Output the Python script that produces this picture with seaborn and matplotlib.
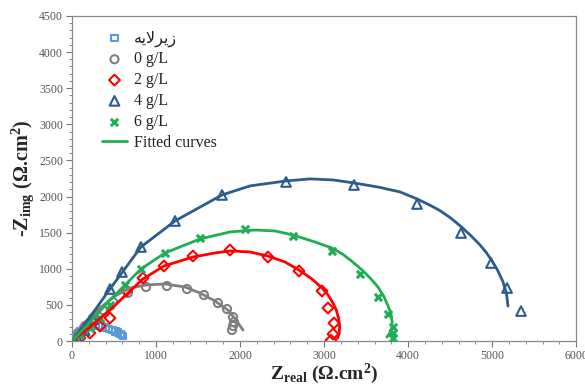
import numpy as np
import pandas as pd
import matplotlib
matplotlib.use("Agg")
import matplotlib.pyplot as plt
from matplotlib.ticker import MultipleLocator
import seaborn as sns

# ---- measured points (Zreal, -Zimg) ----
sub_x = [10, 25, 45, 70, 100, 130, 165, 200, 240, 280, 320, 360, 400, 440, 480, 520, 550, 575, 595, 610]
sub_y = [10, 30, 60, 95, 130, 160, 185, 205, 215, 220, 215, 205, 190, 170, 150, 130, 115, 100, 85, 70]

g0_x = [71, 155, 250, 369, 488, 666, 881, 1130, 1369, 1571, 1737, 1845, 1916, 1928, 1916, 1904]
g0_y = [111, 208, 319, 429, 540, 665, 748, 762, 720, 637, 526, 443, 332, 263, 208, 152]

g2_x = [95, 214, 333, 452, 650, 845, 1095, 1440, 1880, 2332, 2701, 2975, 3046, 3118, 3106, 3082]
g2_y = [42, 111, 208, 319, 698, 872, 1039, 1177, 1260, 1163, 970, 693, 457, 249, 97, 10]

g4_x = [60, 150, 250, 452, 595, 821, 1226, 1785, 2547, 3356, 4106, 4629, 4986, 5177, 5343]
g4_y = [50, 150, 300, 720, 956, 1302, 1662, 2022, 2202, 2160, 1897, 1496, 1080, 734, 415]

g6_x = [95, 214, 333, 452, 631, 821, 1107, 1523, 2059, 2630, 3094, 3427, 3641, 3760, 3820, 3820, 3820]
g6_y = [83, 180, 319, 499, 776, 997, 1219, 1427, 1551, 1454, 1247, 928, 609, 374, 194, 111, 42]

# ---- fitted curves ----
f0_x = [0, 155, 333, 512, 690, 881, 1107, 1345, 1523, 1702, 1856, 1952, 2035]
f0_y = [0, 263, 457, 623, 734, 776, 790, 748, 665, 554, 429, 291, 152]

f2_x = [0, 214, 452, 666, 845, 1095, 1440, 1702, 1880, 2118, 2332, 2535, 2701, 2856, 2975,
        3050, 3106, 3145, 3172, 3185, 3180, 3160]
f2_y = [0, 194, 429, 665, 859, 1039, 1163, 1219, 1247, 1233, 1177, 1094, 983, 859, 734,
        635, 526, 430, 320, 200, 110, 40]

f4_x = [0, 214, 452, 821, 1226, 1785, 2118, 2547, 2832, 3106, 3356, 3650, 3903, 4106, 4260,
        4379, 4510, 4629, 4750, 4855, 4930, 4986, 5060, 5129, 5170, 5188]
f4_y = [0, 332, 720, 1302, 1662, 2022, 2147, 2216, 2244, 2230, 2188, 2130, 2064, 1967, 1880,
        1805, 1700, 1585, 1455, 1330, 1225, 1130, 990, 820, 660, 485]

f6_x = [0, 214, 452, 631, 821, 1107, 1523, 1880, 2178, 2416, 2630, 2892, 3094, 3230, 3340,
        3450, 3550, 3641, 3710, 3760, 3795, 3810, 3805, 3780, 3748]
f6_y = [0, 263, 568, 776, 997, 1219, 1413, 1510, 1537, 1524, 1468, 1371, 1288, 1195, 1095,
        985, 870, 748, 620, 490, 380, 270, 180, 110, 55]

sub_label = "\ufeea\ufbfe\ufefb\ufeae\ufbfe\ufeaf"  # زیرلایه, pre-shaped for LTR drawing

sns.set_style("white")
plt.rcParams["font.family"] = ["Liberation Serif", "DejaVu Sans"]
plt.rcParams["mathtext.fontset"] = "custom"
plt.rcParams["mathtext.rm"] = "Liberation Serif:bold"
plt.rcParams["mathtext.bf"] = "Liberation Serif:bold"
plt.rcParams["mathtext.it"] = "Liberation Serif:bold"

fig, ax = plt.subplots(figsize=(5.85, 3.88), dpi=100)
fig.subplots_adjust(left=0.123, right=0.985, bottom=0.121, top=0.959)

c_sub, c0, c2, c4, c6 = "#5b9bd5", "#7f7f7f", "#ff0000", "#2b5d8c", "#1fae55"

series = [
    (sub_x, sub_y, "s", c_sub, 22, sub_label),
    (g0_x, g0_y, "o", c0, 34, "0 g/L"),
    (g2_x, g2_y, "D", c2, 30, "2 g/L"),
    (g4_x, g4_y, "^", c4, 48, "4 g/L"),
]
for xs, ys, mk, col, size, lab in series:
    d = pd.DataFrame({"x": xs, "y": ys})
    sns.scatterplot(data=d, x="x", y="y", marker=mk, s=size, fc="none", ec=col,
                    linewidth=1.5, label=lab, ax=ax, zorder=3)
d6 = pd.DataFrame({"x": g6_x, "y": g6_y})
sns.scatterplot(data=d6, x="x", y="y", marker="x", s=28, color=c6,
                linewidth=2.2, label="6 g/L", ax=ax, zorder=3)

curves = [(f0_x, f0_y, c0), (f2_x, f2_y, c2), (f4_x, f4_y, c4), (f6_x, f6_y, c6)]
for i, (xs, ys, col) in enumerate(curves):
    d = pd.DataFrame({"x": xs, "y": ys})
    lab = "Fitted curves" if i == 3 else None
    sns.lineplot(data=d, x="x", y="y", sort=False, color=col, lw=2,
                 label=lab, ax=ax, zorder=4)

ax.set_xlim(0, 6000)
ax.set_ylim(0, 4500)
ax.xaxis.set_major_locator(MultipleLocator(1000))
ax.xaxis.set_minor_locator(MultipleLocator(200))
ax.yaxis.set_major_locator(MultipleLocator(500))
ax.yaxis.set_minor_locator(MultipleLocator(100))
ax.tick_params(which="major", direction="out", length=4, width=0.8, color="#777777",
               labelsize=8.5, labelcolor="#555555", bottom=True, left=True, pad=2.5)
ax.tick_params(which="minor", direction="out", length=2.5, width=0.6, color="#777777",
               bottom=True, left=True)
for sp in ax.spines.values():
    sp.set_color("#888888")
    sp.set_linewidth(0.9)

ax.set_xlabel(r"Z$_{\mathregular{real}}$ ($\Omega$.cm$^{\mathregular{2}}$)", fontsize=14,
              fontweight="bold", labelpad=0)
ax.set_ylabel(r"-Z$_{\mathregular{img}}$ ($\Omega$.cm$^{\mathregular{2}}$)", fontsize=14.5,
              fontweight="bold", labelpad=2)

handles, labels = ax.get_legend_handles_labels()
leg = ax.legend(handles, labels, loc="upper left", bbox_to_anchor=(0.04, 0.985),
                frameon=False, fontsize=11.5, handlelength=1.6, handletextpad=0.4,
                labelspacing=0.3, borderaxespad=0.2)
for t in leg.get_texts():
    t.set_color("#222222")

fig.savefig("out.png", dpi=100)
